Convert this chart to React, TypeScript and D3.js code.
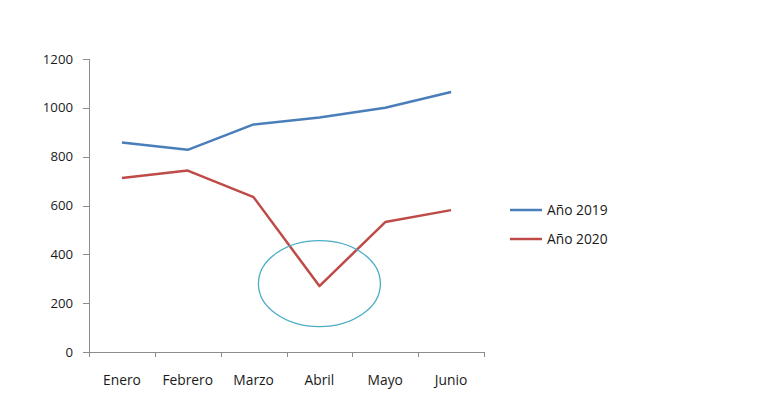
import React from "react";
import * as d3 from "d3";

const months = ["Enero", "Febrero", "Marzo", "Abril", "Mayo", "Junio"];
const y2019 = [858, 828, 932, 960, 1000, 1065];
const y2020 = [713, 743, 634, 270, 532, 581];
const yTicks = [0, 200, 400, 600, 800, 1000, 1200];
const seriesNames = ["Año 2019", "Año 2020"];
const seriesColors = ["#4a7ebb", "#be4b48"];
const highlight = { month: "Abril", value: 280 };

export default function App() {
  const W = 768, H = 400;
  const x = d3.scaleBand().domain(months).range([89, 484]).padding(0);
  const y = d3.scaleLinear().domain([0, 1200]).range([352, 59]);
  const line = d3
    .line<number>()
    .x((_, i) => (x(months[i]) as number) + x.bandwidth() / 2)
    .y((d) => y(d));
  const series = [y2019, y2020];
  const font = "'Open Sans', 'Liberation Sans', sans-serif";
  const axisColor = "#8c8c8c";
  const textColor = "#1a1a1a";
  const cx = (x(highlight.month) as number) + x.bandwidth() / 2;
  const cy = y(highlight.value);
  const boundaries = months.map((m) => x(m) as number).concat([484]);
  return (
    <svg width={W} height={H} style={{ position: "absolute", left: 0, top: 0, background: "#fff" }} fontFamily={font}>
      {/* y axis */}
      <line x1={89.5} x2={89.5} y1={59} y2={352} stroke={axisColor} />
      {yTicks.map((t) => (
        <g key={t}>
          <line x1={83} x2={89.5} y1={Math.round(y(t)) + 0.5} y2={Math.round(y(t)) + 0.5} stroke={axisColor} />
          <text x={73} y={y(t)} dy="0.35em" textAnchor="end" fontSize={13.2} fill={textColor}>
            {t}
          </text>
        </g>
      ))}
      {/* x axis */}
      <line x1={89} x2={484} y1={352.5} y2={352.5} stroke={axisColor} />
      {boundaries.map((b, i) => (
        <line key={i} x1={Math.round(b) + 0.5} x2={Math.round(b) + 0.5} y1={352} y2={357} stroke={axisColor} />
      ))}
      {months.map((m) => (
        <text key={m} x={(x(m) as number) + x.bandwidth() / 2} y={385} textAnchor="middle" fontSize={13.8} fill={textColor}>
          {m}
        </text>
      ))}
      {series.map((s, i) => (
        <path key={i} d={line(s) as string} fill="none" stroke={seriesColors[i]} strokeWidth={2.5} strokeLinejoin="round" />
      ))}
      <ellipse cx={cx} cy={cy} rx={61} ry={43} fill="none" stroke="#4bacc6" strokeWidth={1.3} />
      {seriesNames.map((n, i) => (
        <g key={n} transform={`translate(510, ${210 + i * 29})`}>
          <line x1={0} x2={32} y1={0} y2={0} stroke={seriesColors[i]} strokeWidth={2.5} />
          <text x={37} y={0} dy="0.35em" fontSize={13.8} fill={textColor}>
            {n}
          </text>
        </g>
      ))}
    </svg>
  );
}
